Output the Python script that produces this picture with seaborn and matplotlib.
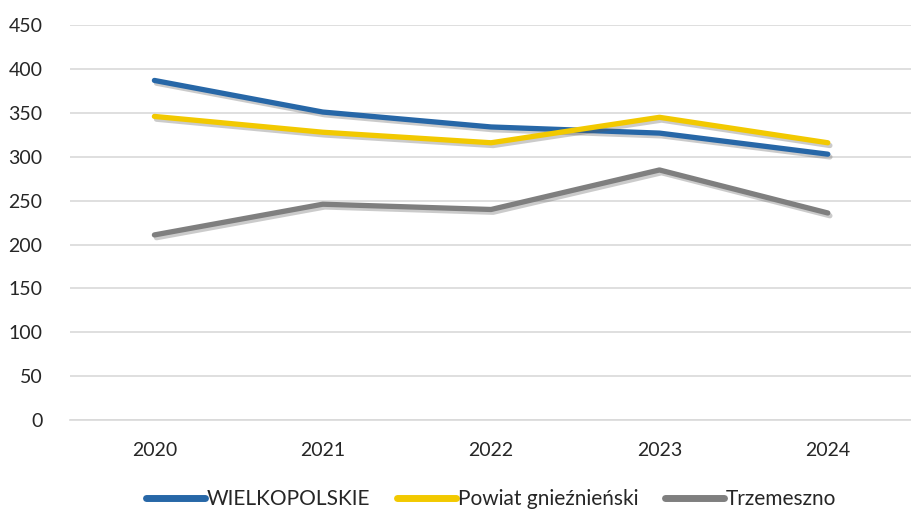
import pandas as pd
import matplotlib.pyplot as plt
import matplotlib.patheffects as pe
import seaborn as sns

years = ['2020', '2021', '2022', '2023', '2024']
wielkopolskie = [387, 351, 334, 327, 303]
powiat = [346, 328, 316, 345, 316]
trzemeszno = [211, 246, 240, 285, 236]
series = ['WIELKOPOLSKIE', 'Powiat gnieźnieński', 'Trzemeszno']
colors = ['#2767A7', '#F2C900', '#7F7F7F']

df = pd.DataFrame({
    'rok': years * 3,
    'wartosc': wielkopolskie + powiat + trzemeszno,
    'seria': [s for s in series for _ in years],
})

sns.set_style('white')
plt.rcParams['font.family'] = ['Lato', 'DejaVu Sans']

fig = plt.figure(figsize=(9.12, 5.13), dpi=100)
ax = fig.add_axes([0.077, 0.181, 0.923, 0.77])

sns.lineplot(data=df, x='rok', y='wartosc', hue='seria', palette=colors,
             linewidth=3.8, sort=False, ax=ax, legend=True)
for line in ax.get_lines():
    line.set_solid_capstyle('round')
    line.set_path_effects([pe.SimpleLineShadow(offset=(1.5, -2), alpha=0.3, shadow_color='#555555'),
                           pe.Normal()])

ax.set_ylim(0, 450)
ax.set_yticks(range(0, 451, 50))
ax.set_xlim(-0.5, 4.42)
ax.set_xticks(range(5))
ax.set_xticklabels(years)
ax.set_xticks([-0.5, 0.5, 1.5, 2.5, 3.5, 4.5], minor=True)
ax.yaxis.grid(True, color='#D9D9D9', linewidth=1.2)
ax.set_axisbelow(True)
for s in ['top', 'right', 'left']:
    ax.spines[s].set_visible(False)
ax.spines['bottom'].set_color('#D9D9D9')
ax.spines['bottom'].set_linewidth(1.2)
ax.tick_params(axis='y', length=0, labelsize=14, pad=20)
ax.tick_params(axis='x', which='major', length=0, labelsize=14, pad=16)
ax.tick_params(axis='x', which='minor', length=8, color='#D9D9D9', width=1.2)
ax.set_xlabel('')
ax.set_ylabel('')

handles, labels = ax.get_legend_handles_labels()
for h in handles:
    h.set_linewidth(5)
    h.set_solid_capstyle('round')
    h.set_path_effects([])
ax.legend(handles, labels, loc='center', bbox_to_anchor=(0.5, -0.2),
          ncol=3, frameon=False, fontsize=15, handlelength=2.8,
          handletextpad=0.1, columnspacing=1.3)

fig.savefig('out.png', dpi=100)
